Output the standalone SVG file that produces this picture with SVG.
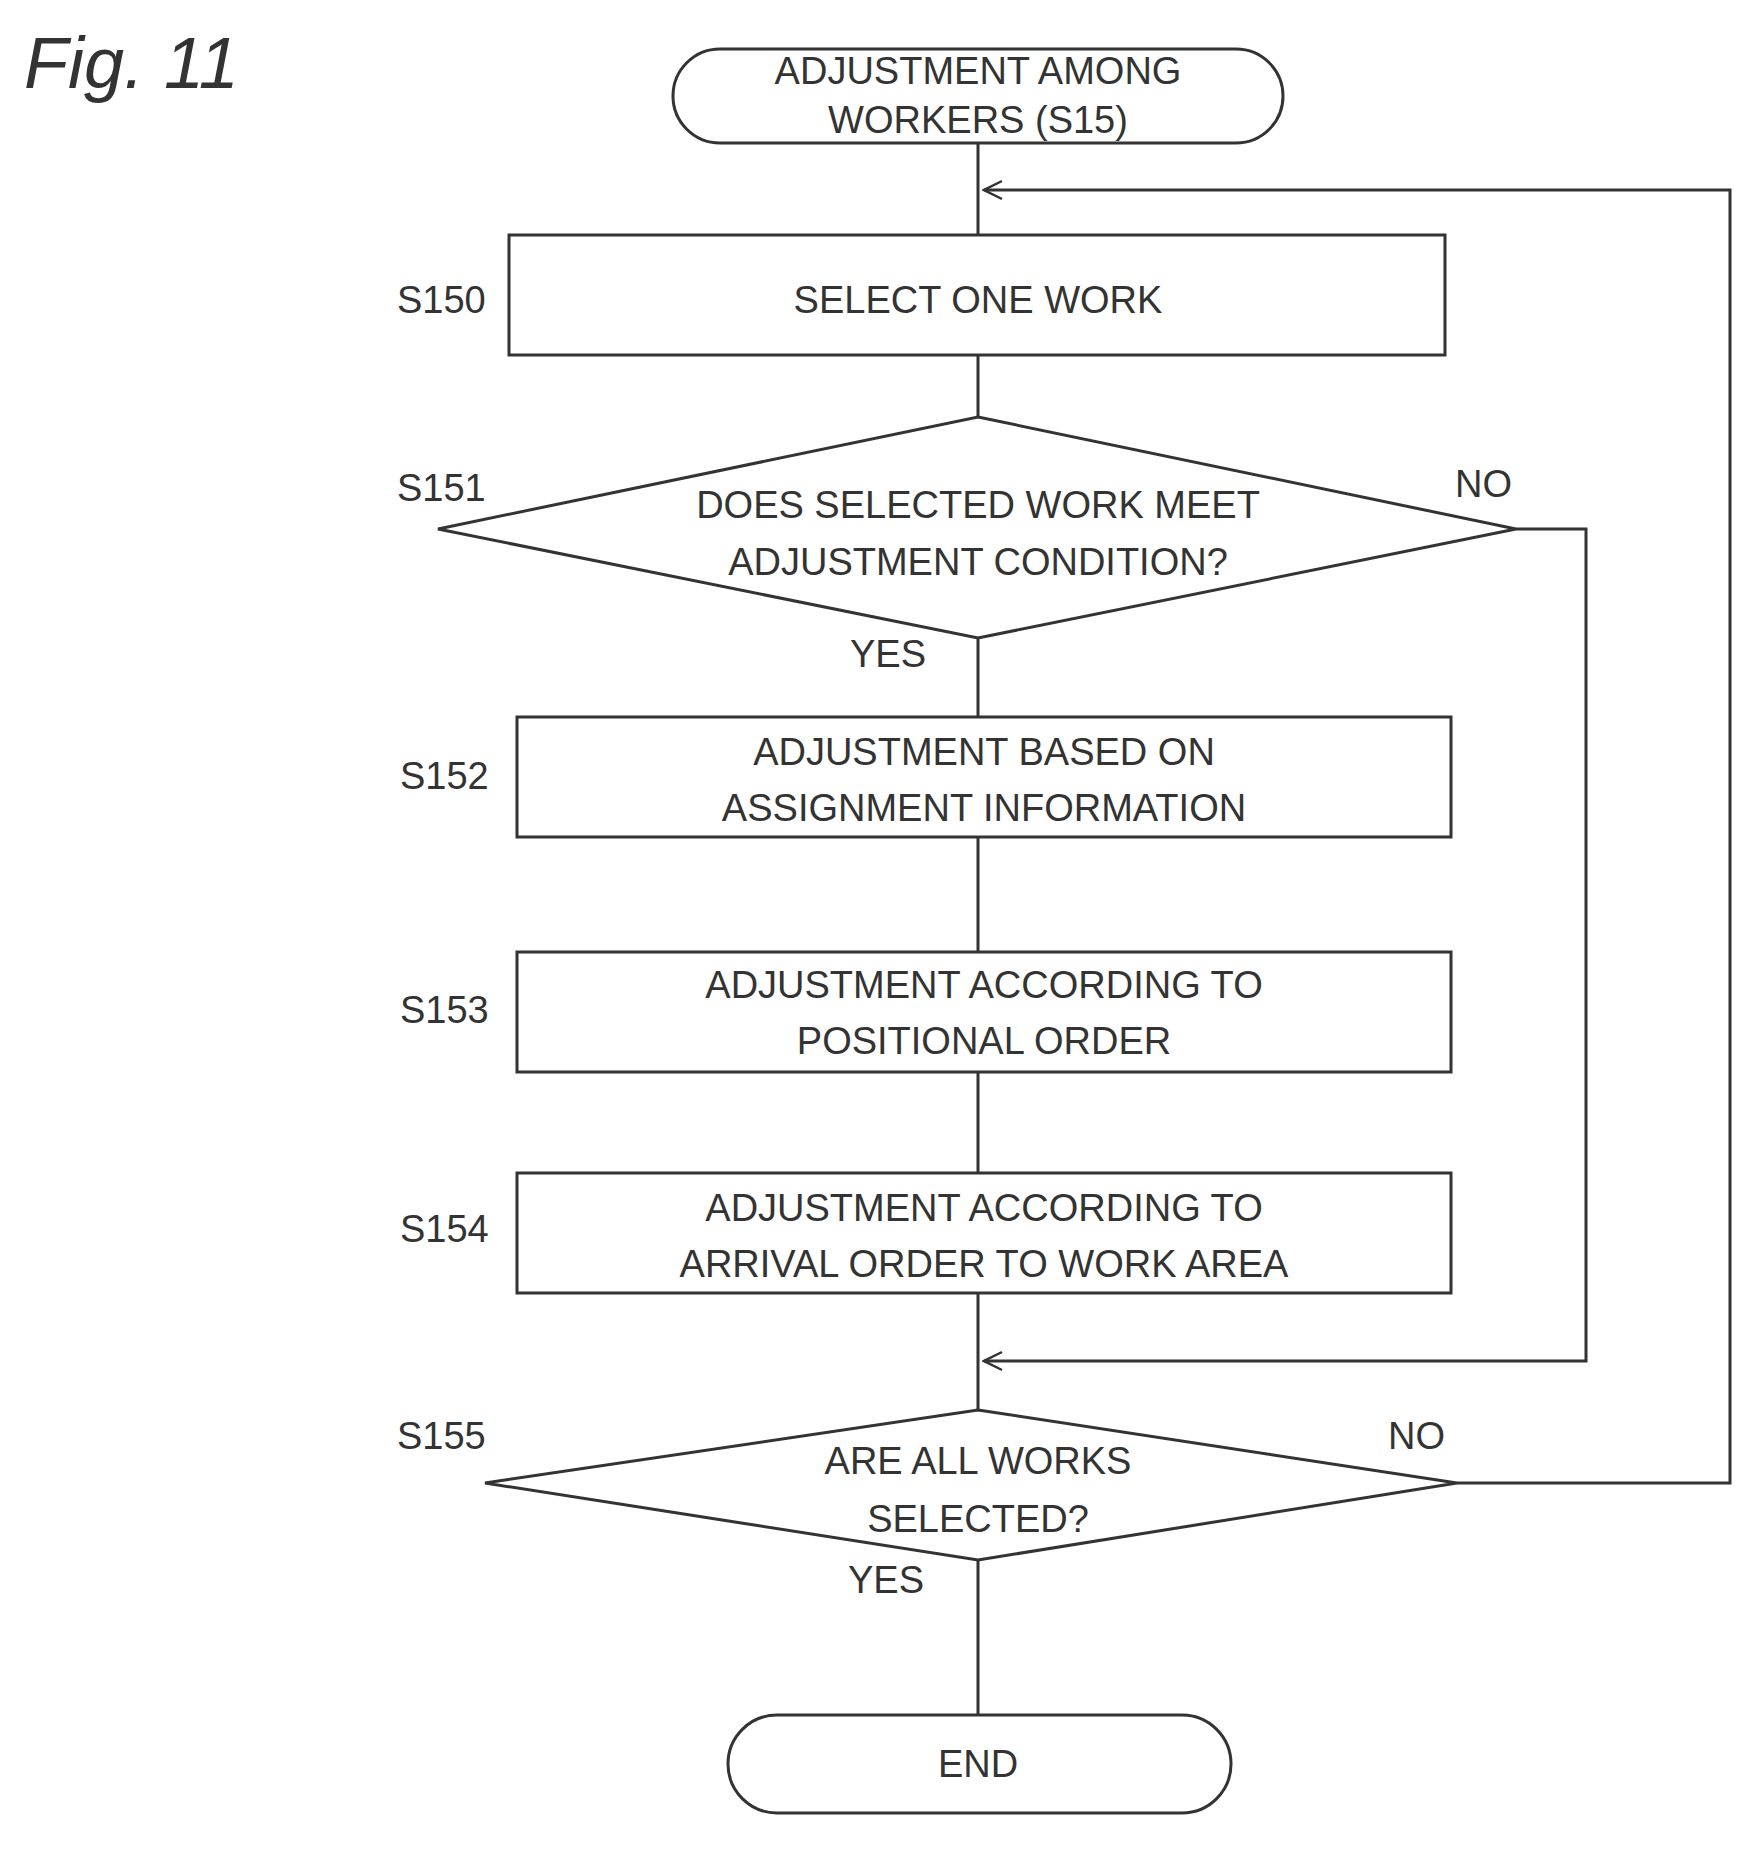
<svg xmlns="http://www.w3.org/2000/svg" width="1762" height="1853" viewBox="0 0 1762 1853">
<style>
.s{fill:#fff;stroke:#333;stroke-width:3}
.c{fill:none;stroke:#333;stroke-width:3}
text{font-family:"Liberation Sans",Arial,sans-serif;font-size:38px;fill:#333}
.m{text-anchor:middle}
</style>
<defs>
<marker id="a" viewBox="0 0 24 24" refX="22" refY="12" markerWidth="24" markerHeight="24" markerUnits="userSpaceOnUse" orient="auto"><path d="M4,3 L22,12 L4,21" fill="none" stroke="#333" stroke-width="2.5"/></marker>
</defs>
<rect width="1762" height="1853" fill="#fff"/>
<text x="24" y="88" style="font-size:72px;font-style:italic">Fig. 11</text>
<g id="connectors">
<path class="c" d="M978,143 V235 M978,355 V417 M978,638 V717 M978,837 V952 M978,1072 V1173 M978,1293 V1410 M978,1560 V1715"/>
<path class="c" d="M1457,1483 H1730 V190 H984" marker-end="url(#a)"/>
<path class="c" d="M1516,529 H1586 V1361 H984" marker-end="url(#a)"/>
</g>
<g id="start"><rect class="s" x="673" y="49" width="610" height="94" rx="47"/><text class="m" x="978" y="84">ADJUSTMENT AMONG</text><text class="m" x="978" y="133">WORKERS (S15)</text></g>
<g id="s150"><rect class="s" x="509" y="235" width="936" height="120"/><text class="m" x="978" y="313">SELECT ONE WORK</text><text x="397" y="313">S150</text></g>
<g id="s151"><polygon class="s" points="978,417 1516,529 978,638 438,529"/><text class="m" x="978" y="518">DOES SELECTED WORK MEET</text><text class="m" x="978" y="575">ADJUSTMENT CONDITION?</text><text x="397" y="501">S151</text><text x="1455" y="497">NO</text><text x="850" y="667">YES</text></g>
<g id="s152"><rect class="s" x="517" y="717" width="934" height="120"/><text class="m" x="984" y="765">ADJUSTMENT BASED ON</text><text class="m" x="984" y="821">ASSIGNMENT INFORMATION</text><text x="400" y="789">S152</text></g>
<g id="s153"><rect class="s" x="517" y="952" width="934" height="120"/><text class="m" x="984" y="998">ADJUSTMENT ACCORDING TO</text><text class="m" x="984" y="1054">POSITIONAL ORDER</text><text x="400" y="1023">S153</text></g>
<g id="s154"><rect class="s" x="517" y="1173" width="934" height="120"/><text class="m" x="984" y="1221">ADJUSTMENT ACCORDING TO</text><text class="m" x="984" y="1277">ARRIVAL ORDER TO WORK AREA</text><text x="400" y="1242">S154</text></g>
<g id="s155"><polygon class="s" points="978,1410 1457,1483 978,1560 485,1483"/><text class="m" x="978" y="1474">ARE ALL WORKS</text><text class="m" x="978" y="1532">SELECTED?</text><text x="397" y="1449">S155</text><text x="1388" y="1449">NO</text><text x="848" y="1593">YES</text></g>
<g id="end"><rect class="s" x="728" y="1715" width="503" height="98" rx="49"/><text class="m" x="978" y="1777">END</text></g>
</svg>
